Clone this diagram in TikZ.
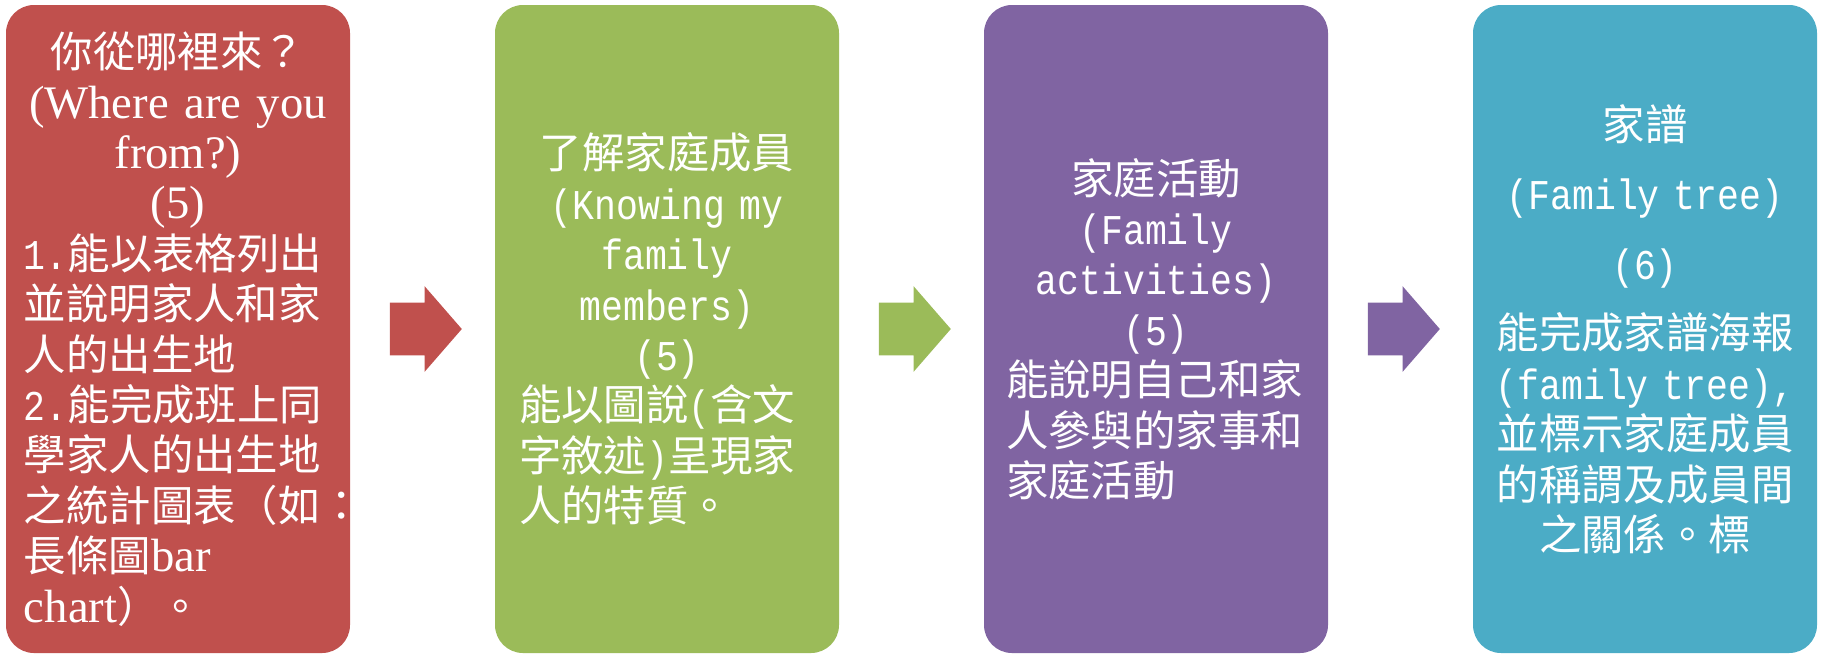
\documentclass[tikz,border=0pt]{standalone}
\usepackage{fontspec}
\setmainfont{Liberation Mono}[FakeStretch=0.86]
\newfontfamily\zh{Noto Sans CJK TC}
\newfontfamily\enserif{Liberation Serif}[Scale=1.1]
\definecolor{unitred}{HTML}{C0504D}
\definecolor{unitgreen}{HTML}{9BBB59}
\definecolor{unitpurple}{HTML}{8064A2}
\definecolor{unitteal}{HTML}{4BACC6}
\usepackage{tikz}
\usetikzlibrary{positioning, shapes.arrows}

\begin{document}
\begin{tikzpicture}[x=0.5pt, y=-0.5pt,
        every node/.style={font=\fontsize{21.2pt}{25.2pt}\selectfont},
        unit/.style={
          rectangle, rounded corners=14pt,
          draw=none, text=white,
          inner xsep=12pt, inner ysep=0pt,
          text width=148pt, align=left,
          minimum width=172pt, minimum height=324pt},
        flow/.style={
          single arrow, draw=none,
          inner xsep=0pt, inner ysep=13pt,
          minimum height=36pt, minimum width=42.5pt,
          single arrow head extend=8.25pt, single arrow tip angle=98}
      ]
        \useasboundingbox (0,0) rectangle (1821,660);
        \node[unit, fill=unitred, inner xsep=9pt, text width=154pt,
          font=\enserif\fontsize{21.2pt}{25.2pt}\selectfont] (where) at (178, 329)
          {{\centering {\zh 你從哪裡來？}\\ (Where are you\\ from?)\\ (5)\par}
           {\rmfamily 1.}{\zh 能以表格列出}\\ {\zh 並說明家人和家}\\ {\zh 人的出生地}\\
           {\rmfamily 2.}{\zh 能完成班上同}\\ {\zh 學家人的出生地}\\ {\zh 之統計圖表（如：}\\
           {\zh 長條圖}bar\\ chart{\zh ）。}};
        \node[unit, fill=unitgreen] (know) at (667, 329)
          {{\centering {\zh 了解家庭成員}\\ (Knowing my\\ family\\ members)\\ (5)\par}
           {\zh 能以圖說}({\zh 含文}\\ {\zh 字敘述}){\zh 呈現家}\\ {\zh 人的特質。}};
        \node[unit, fill=unitpurple, inner xsep=11pt, text width=150pt] (activity) at (1156, 329)
          {{\centering {\zh 家庭活動}\\ (Family\\ activities)\\ (5)\par}
           {\zh 能說明自己和家}\\ {\zh 人參與的家事和}\\ {\zh 家庭活動}};
        \node[unit, fill=unitteal, inner xsep=11pt, text width=150pt, align=center] (tree) at (1645, 329)
          {{\zh 家譜}\\[9.6pt] (Family tree)\\[9.6pt] (6)\\[9.6pt]
           {\zh 能完成家譜海報}\\ (family tree),\\ {\zh 並標示家庭成員}\\
           {\zh 的稱謂及成員間}\\ {\zh 之關係。標}};
        \node[flow, fill=unitred, right=19.5pt of where] (a1) {};
        \node[flow, fill=unitgreen, right=19.5pt of know] (a2) {};
        \node[flow, fill=unitpurple, right=19.5pt of activity] (a3) {};
      \end{tikzpicture}
\end{document}
